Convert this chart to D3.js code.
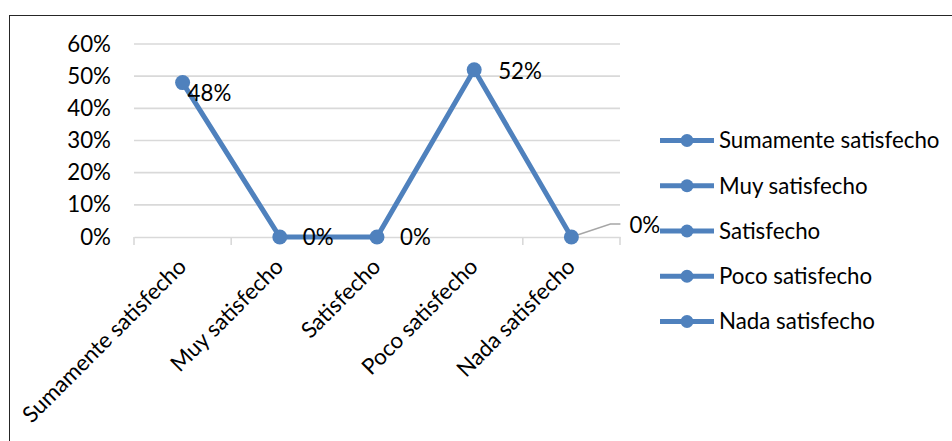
<!DOCTYPE html>
<html>
<head>
<meta charset="utf-8">
<script src="https://cdn.jsdelivr.net/npm/d3@7"></script>
<style>
  html, body { margin: 0; padding: 0; background: #fff; }
  svg { display: block; }
  text { font-family: Lato, "Open Sans", sans-serif; fill: #000; }
</style>
</head>
<body>
<svg id="chart" width="952" height="441"></svg>
<script>
// ---- data ----
const categories = ["Sumamente satisfecho", "Muy satisfecho", "Satisfecho", "Poco satisfecho", "Nada satisfecho"];
const values = [0.48, 0, 0, 0.52, 0];
const yTicks = [0, 0.1, 0.2, 0.3, 0.4, 0.5, 0.6];
const legendLabels = categories;

// ---- layout ----
const W = 952, H = 441;
const plot = { left: 134, right: 620, top: 44, bottom: 237 };
const color = "#4F81BD";
const fontSize = 22.3;

const svg = d3.select("#chart");

// chart border (extends past right/bottom edges)
svg.append("rect")
  .attr("x", 9.5).attr("y", 15.5)
  .attr("width", W + 20).attr("height", H + 20)
  .attr("fill", "#fff").attr("stroke", "#262626").attr("stroke-width", 1);

const x = d3.scaleBand().domain(categories).range([plot.left, plot.right]).padding(0);
const y = d3.scaleLinear().domain([0, 0.6]).range([plot.bottom, plot.top]);
const cx = d => x(d) + x.bandwidth() / 2;

// gridlines
svg.append("g").selectAll("line").data(yTicks.filter(t => t > 0)).join("line")
  .attr("x1", plot.left).attr("x2", plot.right)
  .attr("y1", d => y(d)).attr("y2", d => y(d))
  .attr("stroke", "#D9D9D9").attr("stroke-width", 1.6);

// y axis labels
const yAxis = d3.axisLeft(y).tickValues(yTicks).tickFormat(d3.format(".0%")).tickSize(0).tickPadding(0);
const yg = svg.append("g").attr("transform", `translate(111,0)`).call(yAxis);
yg.select(".domain").remove();
yg.selectAll("text").attr("font-size", fontSize).attr("font-family", "Lato, sans-serif").attr("fill", "#000");

// x axis line with tick marks at category boundaries
const xAxis = d3.axisBottom(x).tickSize(0).tickFormat("");
const xg = svg.append("g").attr("transform", `translate(0,${plot.bottom})`).call(xAxis);
xg.select(".domain").attr("stroke", "#D9D9D9").attr("stroke-width", 1.6);
xg.selectAll(".tick").remove();
const bounds = categories.map(c => x(c)).concat([plot.right]);
svg.append("g").selectAll("line").data(bounds).join("line")
  .attr("x1", d => d).attr("x2", d => d)
  .attr("y1", plot.bottom).attr("y2", plot.bottom + 8)
  .attr("stroke", "#D9D9D9").attr("stroke-width", 1.6);

// x labels rotated
svg.append("g").selectAll("text").data(categories).join("text")
  .attr("text-anchor", "end")
  .attr("font-size", fontSize)
  .attr("transform", d => `translate(${cx(d) + 5},268) rotate(-45)`)
  .text(d => d);

// line
const line = d3.line().x((d, i) => cx(categories[i])).y(d => y(d));
svg.append("path").datum(values)
  .attr("d", line).attr("fill", "none")
  .attr("stroke", color).attr("stroke-width", 5).attr("stroke-linejoin", "round");

// leader line for last label
const lastX = cx(categories[4]), lastY = y(values[4]);
svg.append("polyline")
  .attr("points", `${lastX},${lastY} ${lastX + 39},${lastY - 13} ${lastX + 49},${lastY - 13}`)
  .attr("fill", "none").attr("stroke", "#A6A6A6").attr("stroke-width", 1.4);

// markers
svg.append("g").selectAll("circle").data(values).join("circle")
  .attr("cx", (d, i) => cx(categories[i])).attr("cy", d => y(d))
  .attr("r", 7.5).attr("fill", color);

// data labels
const labelOffsets = [[5, 11], [23, 0], [23, 0], [24, 1], [58, -12]];
svg.append("g").selectAll("text").data(values).join("text")
  .attr("x", (d, i) => cx(categories[i]) + labelOffsets[i][0])
  .attr("y", (d, i) => y(d) + labelOffsets[i][1])
  .attr("dy", "0.35em")
  .attr("font-size", fontSize)
  .text(d => d3.format(".0%")(d));

// legend
const legendY = d3.scalePoint().domain(legendLabels).range([140.5, 321.5]);
const lg = svg.append("g").selectAll("g").data(legendLabels).join("g")
  .attr("transform", d => `translate(0,${legendY(d)})`);
lg.append("line").attr("x1", 660).attr("x2", 714).attr("y1", 0).attr("y2", 0)
  .attr("stroke", color).attr("stroke-width", 5);
lg.append("circle").attr("cx", 687).attr("cy", 0).attr("r", 6.5).attr("fill", color);
lg.append("text").attr("x", 719).attr("dy", "0.35em").attr("font-size", fontSize).text(d => d);
</script>
</body>
</html>
